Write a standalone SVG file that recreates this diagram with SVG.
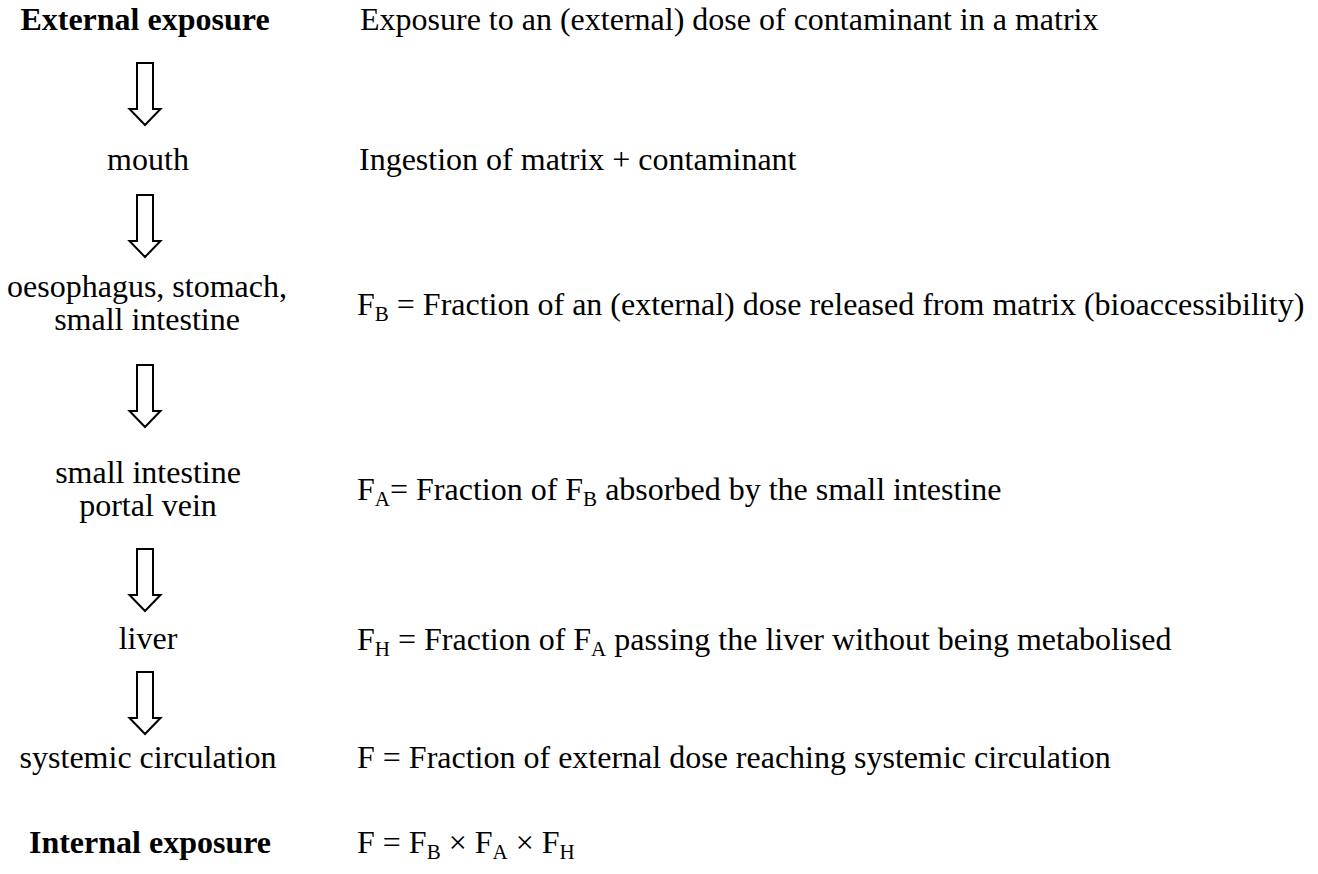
<svg xmlns="http://www.w3.org/2000/svg" width="1318" height="874" viewBox="0 0 1318 874">
<defs>
<style>
text{font-family:"Liberation Serif","Times New Roman",serif;font-size:32px;fill:#000}
.l{text-anchor:middle}
.b{font-weight:bold}
.sub{font-size:21px}
.arr{fill:#fff;stroke:#000;stroke-width:2;stroke-linejoin:miter}
</style>
<path id="arrow" class="arr" d="M-8,0 H8 V46 H15.5 L0,62 L-15.5,46 H-8 Z"/>
</defs>
<rect width="1318" height="874" fill="#fff"/>
<g id="connectors">
<use href="#arrow" x="145" y="63"/>
<use href="#arrow" x="145" y="195"/>
<use href="#arrow" x="145" y="365"/>
<use href="#arrow" x="145" y="549"/>
<use href="#arrow" x="145" y="672"/>
</g>
<g id="n-external"><text class="l b" x="145" y="30">External exposure</text></g>
<g id="d-external"><text x="360" y="30">Exposure to an (external) dose of contaminant in a matrix</text></g>
<g id="n-mouth"><text class="l" x="148" y="170">mouth</text></g>
<g id="d-mouth"><text x="359" y="170">Ingestion of matrix + contaminant</text></g>
<g id="n-stomach"><text class="l" x="147" y="297">oesophagus, stomach,</text><text class="l" x="147" y="330">small intestine</text></g>
<g id="d-stomach"><text x="357" y="315">F<tspan class="sub" dy="6">B</tspan><tspan dy="-6"> = Fraction of an (external) dose released from matrix (bioaccessibility)</tspan></text></g>
<g id="n-intestine"><text class="l" x="148" y="483">small intestine</text><text class="l" x="148" y="516">portal vein</text></g>
<g id="d-intestine"><text x="357" y="500">F<tspan class="sub" dy="6">A</tspan><tspan dy="-6">= Fraction of F</tspan><tspan class="sub" dy="6">B</tspan><tspan dy="-6"> absorbed by the small intestine</tspan></text></g>
<g id="n-liver"><text class="l" x="148" y="649">liver</text></g>
<g id="d-liver"><text x="357" y="650">F<tspan class="sub" dy="6">H</tspan><tspan dy="-6"> = Fraction of F</tspan><tspan class="sub" dy="6">A</tspan><tspan dy="-6"> passing the liver without being metabolised</tspan></text></g>
<g id="n-systemic"><text class="l" x="148" y="768">systemic circulation</text></g>
<g id="d-systemic"><text x="357" y="768">F = Fraction of external dose reaching systemic circulation</text></g>
<g id="n-internal"><text class="l b" x="150" y="853">Internal exposure</text></g>
<g id="d-internal"><text x="357" y="853">F = F<tspan class="sub" dy="6">B</tspan><tspan dy="-6"> × F</tspan><tspan class="sub" dy="6">A</tspan><tspan dy="-6"> × F</tspan><tspan class="sub" dy="6">H</tspan></text></g>
</svg>
